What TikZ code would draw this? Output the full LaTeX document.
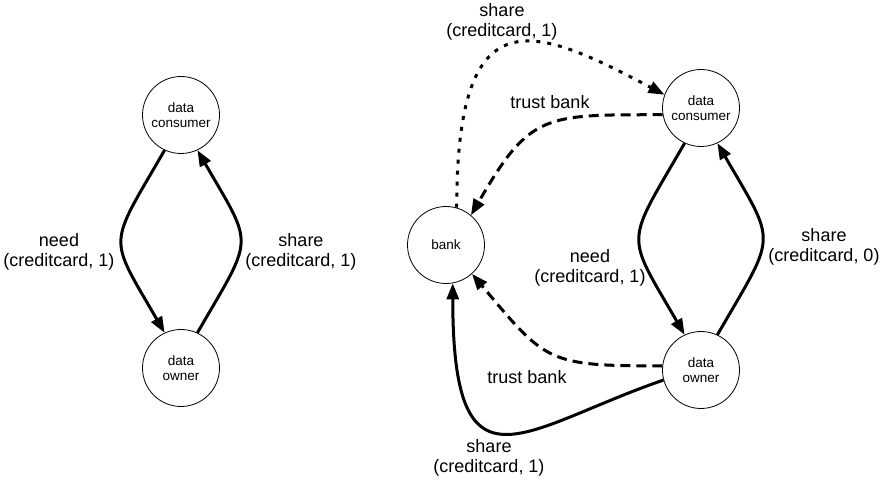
\documentclass[tikz,border=0pt]{standalone}
\usepackage{fontspec}
\setmainfont{Liberation Sans}
\usepackage{tikz}
\usetikzlibrary{arrows.meta}

\begin{document}
\begin{tikzpicture}[
  x=1pt,y=1pt,
  agent/.style={draw,circle,line width=0.8pt,minimum size=77pt,inner sep=0pt,align=center,
    font=\fontsize{13.5}{15}\selectfont},
  lbl/.style={align=center,font=\fontsize{18}{20}\selectfont},
  ar/.style={-{Triangle[length=16pt,width=12pt]},line width=3pt},
  trust/.style={ar,dash pattern=on 10pt off 6pt},
  leak/.style={ar,dash pattern=on 4pt off 7pt},
]
  \useasboundingbox (0,0) rectangle (887,482);
  % two-party exchange
  \node[agent] (lcons) at (181,367) {data\\consumer};
  \node[agent] (lown) at (181,114) {data\\owner};
  \draw[ar] (lcons.-115) to[out=-120,in=120,looseness=1.6] (lown.115);
  \draw[ar] (lown.65) to[out=60,in=-60,looseness=1.6] (lcons.-65);
  \node[lbl] (lneed) at (59,230) {need\\(creditcard, 1)};
  \node[lbl] (lshare) at (301,230) {share\\(creditcard, 1)};
  % exchange with a trusted bank
  \node[agent] (bank) at (446,237) {bank};
  \node[agent] (rcons) at (701,374) {data\\consumer};
  \node[agent] (rown) at (701,112) {data\\owner};
  \draw[ar] (rcons.-115) to[out=-120,in=120,looseness=1.6] (rown.115);
  \draw[ar] (rown.65) to[out=60,in=-60,looseness=1.6] (rcons.-65);
  \node[lbl] (rneed) at (590,214) {need\\(creditcard, 1)};
  \node[lbl] (rshare) at (824,235) {share\\(creditcard, 0)};
  % bank side
  \draw[leak] (bank.74) .. controls +(0,214) and +(-132,70) .. (rcons.160);
  \draw[trust] (rcons.190) to[out=180,in=60,looseness=1.4] (bank.50);
  \draw[trust] (rown.174) to[out=180,in=-50,looseness=1.4] (bank.-48);
  \draw[ar] (rown.195) .. controls +(-142,-49) and +(0,-220) .. (bank.-80);
  \node[lbl] (bshare) at (502,460) {share\\(creditcard, 1)};
  \node[lbl] (ctrust) at (550,380) {trust bank};
  \node[lbl] (otrust) at (527,105) {trust bank};
  \node[lbl] (oshare) at (489,24) {share\\(creditcard, 1)};
\end{tikzpicture}
\end{document}
